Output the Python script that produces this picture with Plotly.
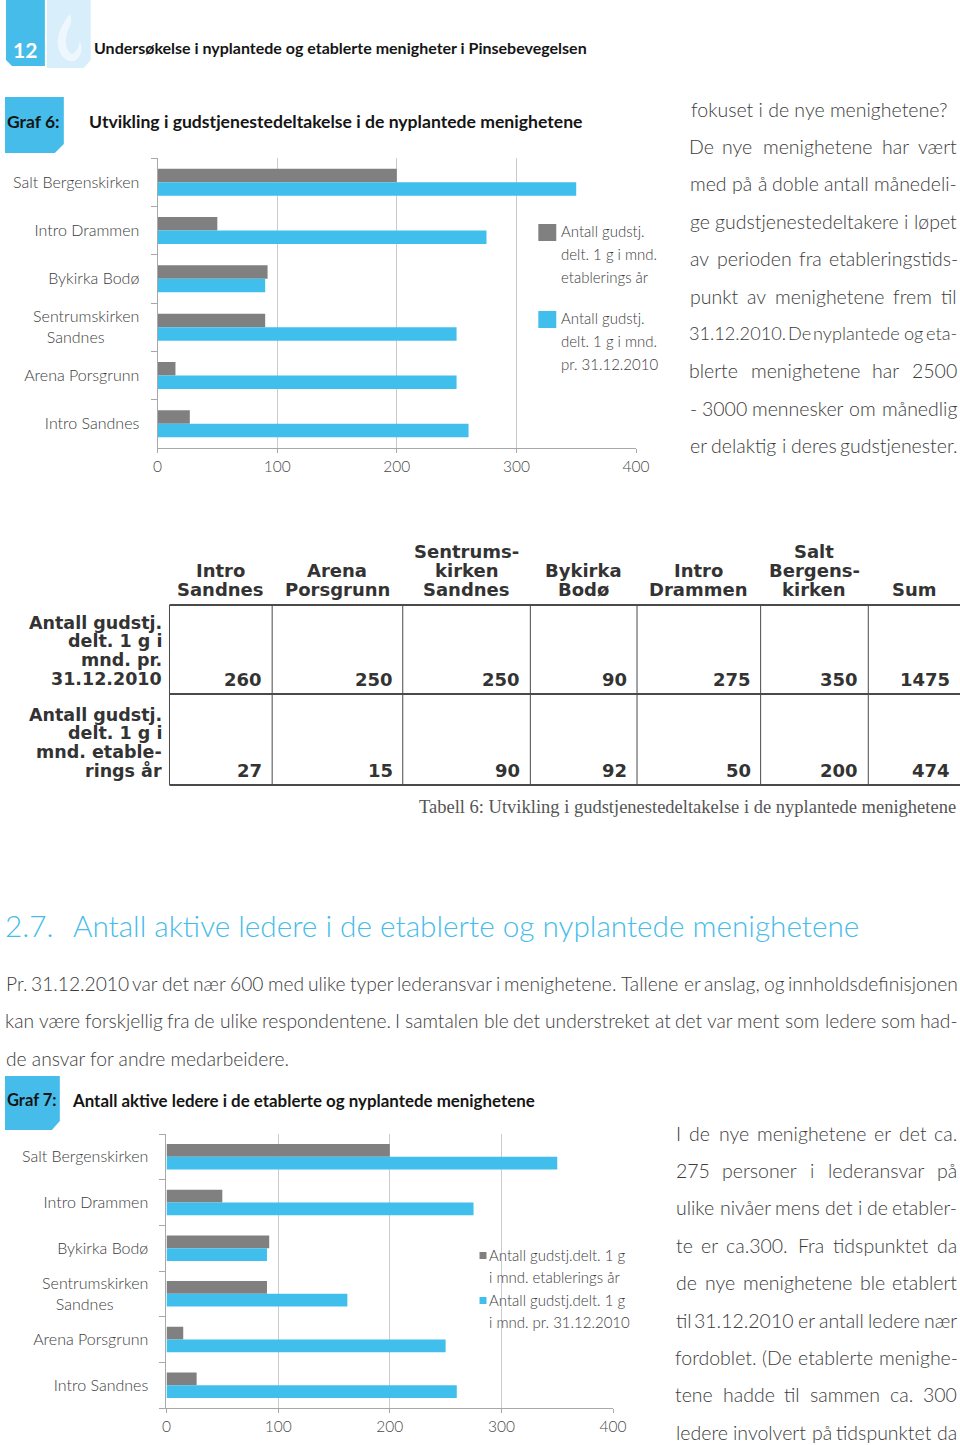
import plotly.graph_objects as go

W, H = 960, 1445
FIG_W = 975

# ---------------- data ----------------
churches = ["Salt Bergenskirken", "Intro Drammen", "Bykirka Bodø",
            "Sentrumskirken Sandnes", "Arena Porsgrunn", "Intro Sandnes"]
church_ticktext = ["Salt Bergenskirken", "Intro Drammen", "Bykirka Bodø",
                   "Sentrumskirken<br>Sandnes" + "\u00a0" * 8,
                   "Arena Porsgrunn", "Intro Sandnes"]
graf6_etablering = [200, 50, 92, 90, 15, 27]
graf6_2010 = [350, 275, 90, 250, 250, 260]
graf7_etablering = [200, 50, 92, 90, 15, 27]
graf7_2010 = [350, 275, 90, 162, 250, 260]
x_ticks = [0, 100, 200, 300, 400]
series_names = ["Antall gudstj. delt. 1 g i mnd. etablerings år",
                "Antall gudstj. delt. 1 g i mnd. pr. 31.12.2010"]
legend6_lines = [["Antall gudstj.", "delt. 1 g i mnd.", "etablerings år"],
                 ["Antall gudstj.", "delt. 1 g i mnd.", "pr. 31.12.2010"]]
legend7_lines = [["Antall gudstj.delt. 1 g", "i mnd. etablerings år"],
                 ["Antall gudstj.delt. 1 g", "i mnd. pr. 31.12.2010"]]

table_header = [["Intro", "Sandnes"], ["Arena", "Porsgrunn"],
                ["Sentrums-", "kirken", "Sandnes"], ["Bykirka", "Bodø"],
                ["Intro", "Drammen"], ["Salt", "Bergens-", "kirken"], ["Sum"]]
table_row_labels = [["Antall gudstj.", "delt. 1 g i", "mnd. pr.", "31.12.2010"],
                    ["Antall gudstj.", "delt. 1 g i", "mnd. etable-", "rings år"]]
table_2010 = [260, 250, 250, 90, 275, 350, 1475]
table_etablering = [27, 15, 90, 92, 50, 200, 474]
table_caption = "Tabell 6: Utvikling i gudstjenestedeltakelse i de nyplantede menighetene"

page_header = "Undersøkelse i nyplantede og etablerte menigheter i Pinsebevegelsen"
page_number = "12"
graf6_label = "Graf 6:"
graf6_title = "Utvikling i gudstjenestedeltakelse i de nyplantede menighetene"
graf7_label = "Graf 7:"
graf7_title = "Antall aktive ledere i de etablerte og nyplantede menighetene"
section_no = "2.7."
section_title = "Antall aktive ledere i de etablerte og nyplantede menighetene"

col1_lines = [("fokuset i de nye menighetene?", False),
              ("De nye menighetene har vært", True),
              ("med på å doble antall månedeli-", True),
              ("ge gudstjenestedeltakere i løpet", True),
              ("av perioden fra etableringstids-", True),
              ("punkt av menighetene frem til", True),
              ("31.12.2010. De nyplantede og eta-", True),
              ("blerte menighetene  har 2500", True),
              ("- 3000 mennesker om månedlig", True),
              ("er delaktig i deres gudstjenester.", True)]
body_lines = [("Pr. 31.12.2010 var det nær 600 med ulike typer lederansvar i menighetene. Tallene er anslag, og innholdsdefinisjonen", True),
              ("kan være forskjellig fra de ulike respondentene. I samtalen ble det understreket at det var ment som ledere som had-", True),
              ("de ansvar for andre medarbeidere.", False)]
col2_lines = [("I de nye menighetene er det ca.", True),
              ("275 personer i lederansvar på", True),
              ("ulike nivåer mens det i de etabler-", True),
              ("te er ca.300.  Fra tidspunktet da", True),
              ("de nye menighetene ble etablert", True),
              ("til 31.12.2010 er antall ledere nær", True),
              ("fordoblet. (De etablerte menighe-", True),
              ("tene hadde til sammen ca. 300", True),
              ("ledere involvert på tidspunktet da", True)]

# ---------------- style ----------------
GRAY = "#808080"
BLUE = "#41bfec"
TAB_BLUE = "#45bce9"
PALE = "#d8eefa"
TXT = "#3c3c3c"
AXC = "#a8a8a8"
LIGHT = dict(family="Lato", weight=300)


def px(x):
    return x / W


def py(y):
    return 1 - y / H


CW = {' ': 0.19, 'a': 0.49, 'b': 0.55, 'c': 0.45, 'd': 0.55, 'e': 0.51, 'f': 0.31,
      'g': 0.50, 'h': 0.55, 'i': 0.23, 'j': 0.23, 'k': 0.47, 'l': 0.23, 'm': 0.83,
      'n': 0.55, 'o': 0.55, 'p': 0.55, 'q': 0.55, 'r': 0.35, 's': 0.41, 't': 0.33,
      'u': 0.55, 'v': 0.48, 'w': 0.74, 'x': 0.46, 'y': 0.48, 'z': 0.44, 'æ': 0.80,
      'ø': 0.55, 'å': 0.49, '.': 0.20, ',': 0.20, '-': 0.33, '?': 0.40, '(': 0.28,
      ')': 0.28, ':': 0.20, 'I': 0.26}


def em(s):
    t = 0.0
    for ch in s:
        if ch in CW:
            t += CW[ch]
        elif ch.isdigit():
            t += 0.58
        elif ch.isupper():
            t += 0.64
        else:
            t += 0.5
    return t


annotations = []
shapes = []


def note(text, x, y, size, color=TXT, xanchor="left", family="Lato", weight=300):
    annotations.append(dict(x=px(x), y=py(y), xref="paper", yref="paper", text=text,
                            xanchor=xanchor, yanchor="middle", showarrow=False,
                            borderpad=0,
                            font=dict(family=family, size=size, color=color, weight=weight)))


def block(lines, x0, x1, y0, step, maxsize, color=TXT, uniform=False):
    width = x1 - x0
    usize = maxsize
    if uniform:
        for text, just in lines:
            usize = min(usize, 0.99 * width / em(text))
    for i, (text, just) in enumerate(lines):
        y = y0 + i * step
        size = usize if uniform else min(maxsize, 0.99 * width / em(text))
        words = text.split()
        if not just or len(words) < 2:
            note(text, x0, y, size, color)
            continue
        widths = [em(w) * size for w in words]
        gap = (width - sum(widths)) / (len(words) - 1)
        x = x0
        for w, wd in zip(words, widths):
            note(w, x + wd / 2, y, size, color, xanchor="center")
            x += wd + gap


def path(cmds):
    out = []
    for c in cmds:
        op = c[0]
        pts = " ".join(f"{px(a):.5f},{py(b):.5f}" for a, b in c[1:])
        out.append(f"{op} {pts}")
    return " ".join(out) + " Z"


def poly(points, color, opacity=1.0):
    cmds = [("M", points[0])] + [("L", p) for p in points[1:]]
    shapes.append(dict(type="path", xref="paper", yref="paper", path=path(cmds),
                       fillcolor=color, line=dict(width=0), opacity=opacity, layer="below"))


def hline(x0, x1, y, color="#4a4a4a", w=2):
    shapes.append(dict(type="line", xref="paper", yref="paper", x0=px(x0), x1=px(x1),
                       y0=py(y), y1=py(y), line=dict(color=color, width=w)))


def vline(x, y0, y1, color="#4a4a4a", w=1):
    shapes.append(dict(type="line", xref="paper", yref="paper", x0=px(x), x1=px(x),
                       y0=py(y0), y1=py(y1), line=dict(color=color, width=w)))


def square(x0, y0, x1, y1, color):
    shapes.append(dict(type="rect", xref="paper", yref="paper", x0=px(x0), x1=px(x1),
                       y0=py(y0), y1=py(y1), fillcolor=color, line=dict(width=0)))


# ---------------- traces ----------------
fig = go.Figure()
for vals, col, nm in [(graf6_etablering, GRAY, series_names[0]), (graf6_2010, BLUE, series_names[1])]:
    fig.add_trace(go.Bar(y=churches, x=vals, orientation="h", marker=dict(color=col, line=dict(width=0)),
                         name=nm, xaxis="x", yaxis="y", showlegend=False, hoverinfo="x+y"))
for vals, col, nm in [(graf7_etablering, GRAY, series_names[0]), (graf7_2010, BLUE, series_names[1])]:
    fig.add_trace(go.Bar(y=churches, x=vals, orientation="h", marker=dict(color=col, line=dict(width=0)),
                         name=nm, xaxis="x2", yaxis="y2", showlegend=False, hoverinfo="x+y"))


def xaxis_cfg(dom, anchor):
    return dict(domain=dom, anchor=anchor, range=[0, 400], tickvals=x_ticks,
                showgrid=True, gridcolor="#cbcbcb", gridwidth=1, showline=True,
                linecolor=AXC, linewidth=1, ticks="outside", ticklen=4, tickcolor=AXC,
                zeroline=False, fixedrange=True,
                tickfont=dict(size=15.5, color="#4a4a4a", **LIGHT))


def yaxis_cfg(dom, anchor):
    return dict(domain=dom, anchor=anchor, type="category", range=[5.5, -0.5],
                tickvals=churches, ticktext=church_ticktext, showline=True,
                linecolor=AXC, linewidth=1, ticks="outside", tickson="boundaries",
                ticklen=6, tickcolor=AXC, showgrid=False, fixedrange=True,
                ticklabelstandoff=14,
                tickfont=dict(size=16, color=TXT, **LIGHT))


# ---------------- header graphics ----------------
poly([(1, 0), (40, 0), (40, 66), (7, 66), (1, 60)], TAB_BLUE)
poly([(42, 0), (86, 0), (86, 60), (79, 68), (42, 68)], PALE)
shapes.append(dict(type="path", xref="paper", yref="paper", layer="below",
                   path=path([("M", (65, 14)), ("C", (56, 26), (50, 38), (54, 50)),
                              ("C", (57, 58), (63, 62), (69, 61)),
                              ("C", (76, 58), (79, 50), (75, 41)),
                              ("C", (74, 48), (71, 53), (67, 54)),
                              ("C", (60, 50), (59, 38), (65, 26)),
                              ("C", (67, 22), (67, 18), (65, 14))]),
                   fillcolor="white", opacity=0.55, line=dict(width=0)))
note(page_number, 20, 50, 21, "white", "center", weight=700)
note(page_header, 88, 47, 16, "#151515", weight=700)

poly([(0, 97), (59, 97), (59, 144), (50, 153), (0, 153)], TAB_BLUE)
note(graf6_label, 1, 122, 17.5, "#151515", weight=700)
note(graf6_title, 83, 122, 17.6, "#151515", weight=700)

poly([(0, 1076), (55, 1076), (55, 1121), (47, 1130), (0, 1130)], TAB_BLUE)
note(graf7_label, 1, 1100, 16.5, "#151515", weight=700)
note(graf7_title, 66, 1100, 16.9, "#151515", weight=700)

# ---------------- legends ----------------
for i, lines in enumerate(legend6_lines):
    top = [224, 311][i]
    square(535, top, 553, top + 17, [GRAY, BLUE][i])
    for j, ln in enumerate(lines):
        note(ln, 557, top + 7 + j * 23, 15, TXT)
for i, lines in enumerate(legend7_lines):
    top = [1252, 1297][i]
    square(476, top, 483, top + 7, [GRAY, BLUE][i])
    for j, ln in enumerate(lines):
        note(ln, 485, top + 3 + j * 21.5, 15, TXT)

# ---------------- text columns ----------------
block(col1_lines, 687, 955, 109, 37.4, 19.5)
block(body_lines, 0, 955, 983, 37.5, 19.5, uniform=True)
block(col2_lines, 673, 955, 1133, 37.4, 19.5)

sec_size = min(40, 0.97 * 786 / em(section_title))
note(section_no, -1, 925, sec_size, TAB_BLUE)
note(section_title, 67, 925, sec_size, TAB_BLUE)

# ---------------- table ----------------
col_edges = [165, 268, 399, 527, 634, 758, 866, 958]
TF = "DejaVu Sans"
for k, lines in enumerate(table_header):
    cx = (col_edges[k] + col_edges[k + 1]) / 2
    n = len(lines)
    for j, ln in enumerate(lines):
        note(ln, cx, 589 - (n - 1 - j) * 19, 18, "#333333", "center", family=TF, weight=700)
for r, (lines, vals) in enumerate(zip(table_row_labels, [table_2010, table_etablering])):
    base = [679, 771][r]
    n = len(lines)
    for j, ln in enumerate(lines):
        note(ln, 158, base - (n - 1 - j) * 18.8, 17.5, "#333333", "right", family=TF, weight=700)
    for k, v in enumerate(vals):
        note(str(v), col_edges[k + 1] - 9, base, 18, "#333333", "right", family=TF, weight=700)
for y in [605, 694, 785]:
    hline(165, 960, y)
for x in col_edges[:-1]:
    vline(x, 605, 785)
note(table_caption, 955, 807, 18.5, "#555555", "right", family="Liberation Serif", weight=400)

# ---------------- layout ----------------
fig.update_layout(
    width=FIG_W, height=H, autosize=False,
    margin=dict(l=0, r=0, t=0, b=0),
    paper_bgcolor="white", plot_bgcolor="white",
    barmode="group", bargap=0.44, bargroupgap=0,
    showlegend=False,
    xaxis=xaxis_cfg([153 / W, 633 / W], "y"),
    yaxis=yaxis_cfg([1 - 448 / H, 1 - 158 / H], "x"),
    xaxis2=xaxis_cfg([162 / W, 610 / W], "y2"),
    yaxis2=yaxis_cfg([1 - 1408 / H, 1 - 1134 / H], "x2"),
    annotations=annotations,
    shapes=shapes,
    font=dict(family="Lato", color=TXT),
)

fig.write_html(
    "out.html",
    config={"displayModeBar": False, "responsive": False},
    post_script=(
        "document.body.style.margin='0px';"
        "document.body.style.overflow='hidden';"
        "document.documentElement.style.overflow='hidden';"
    ),
)
